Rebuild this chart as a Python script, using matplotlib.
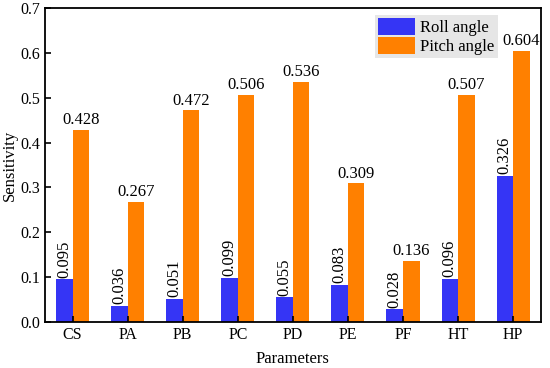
import matplotlib.pyplot as plt
import numpy as np

plt.rcParams['font.family'] = ['Liberation Serif', 'DejaVu Serif']

# data
params = ['CS', 'PA', 'PB', 'PC', 'PD', 'PE', 'PF', 'HT', 'HP']
roll = [0.095, 0.036, 0.051, 0.099, 0.055, 0.083, 0.028, 0.096, 0.326]
pitch = [0.428, 0.267, 0.472, 0.506, 0.536, 0.309, 0.136, 0.507, 0.604]

fig = plt.figure(figsize=(5.5, 3.68), dpi=100)
ax = fig.add_axes([0.082, 0.125, 0.901, 0.853])

x = np.arange(len(params))
w = 0.3
b1 = ax.bar(x - w / 2, roll, w, color='#3535f5', label='Roll angle')
b2 = ax.bar(x + w / 2, pitch, w, color='#ff8000', label='Pitch angle')

# value labels
for xi, v in zip(x, roll):
    ax.text(xi - w / 2, v + 0.004, f'{v:.3f}', rotation=90, ha='center', va='bottom', fontsize=12)
for xi, v in zip(x, pitch):
    ax.text(xi + w / 2, v + 0.004, f'{v:.3f}', ha='center', va='bottom', fontsize=12)

ax.set_xlim(-0.5, len(params) - 0.5)
ax.set_ylim(0, 0.7)
ax.set_xticks(x)
ax.set_xticklabels(params)
ax.set_yticks(np.arange(0, 0.71, 0.1))
ax.set_yticklabels([f'{t:.1f}' for t in np.arange(0, 0.71, 0.1)])
ax.tick_params(direction='in', labelsize=11.5, width=1.2, length=4)
for s in ax.spines.values():
    s.set_linewidth(1.3)

ax.set_xlabel('Parameters', fontsize=12, labelpad=6)
ax.set_ylabel('Sensitivity', fontsize=12, labelpad=2)

leg = ax.legend(loc='upper right', bbox_to_anchor=(0.92, 0.99), fontsize=12,
                frameon=True, fancybox=False, handlelength=2.2, handleheight=1.2,
                borderpad=0.2, labelspacing=0.05, handletextpad=0.3, borderaxespad=0.2)
leg.get_frame().set_facecolor('#e6e6e6')
leg.get_frame().set_edgecolor('none')
leg.get_frame().set_alpha(1)

fig.savefig('out.png', dpi=100)
